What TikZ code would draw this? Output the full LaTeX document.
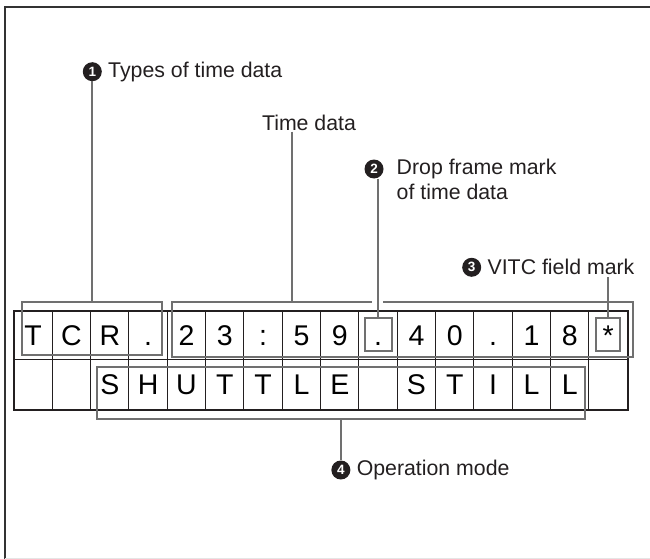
\documentclass[tikz,border=0pt]{standalone}
\usepackage{fontspec}
\setmainfont{Liberation Sans}
\usetikzlibrary{positioning}
\definecolor{inkblack}{RGB}{35,31,32}
\definecolor{markgray}{RGB}{112,112,112}

\begin{document}
\begin{tikzpicture}[x=1pt,y=1pt,
	cell/.style={draw=inkblack, line width=1pt, minimum width=38.33pt, inner sep=0pt,
		text height=20.3pt, text depth=0pt, font=\fontsize{28.5}{28.5}\selectfont},
	markbox/.style={draw=markgray, line width=2pt, inner sep=0pt},
	leader/.style={draw=markgray, line width=2pt},
	num/.style={circle, fill=inkblack, text=white, inner sep=0pt, minimum size=19pt,
		font=\fontsize{13.5}{13.5}\selectfont\bfseries},
	lbl/.style={font=\fontsize{21.3}{25}\selectfont, inner sep=0pt, text=inkblack, align=left}]
				\useasboundingbox (0,0) rectangle (650,-559);
				% Frame
				\draw[black!80, line width=2pt] (4.7,-559) -- (4.7,-6.7) -- (650,-6.7);
				\draw[black!10, line width=1pt] (4.7,-558) -- (650,-558);
				
				% Display rows
				\foreach \c [count=\i from 0] in {T,C,R,.,2,3,:,5,9,.,4,0,.,1,8,*}
					\node[cell, minimum height=48pt] (t\i) at ({33.17+38.33*\i},-335.5) {\c};
				\foreach \c [count=\i from 0] in {{},{},S,H,U,T,T,L,E,{},S,T,I,L,L,{}}
					\node[cell, minimum height=50pt] (b\i) at ({33.17+38.33*\i},-384.5) {\c};
				\draw[inkblack, line width=1.8pt] (t0.north west) rectangle (b15.south east);
				
				% Marked fields
				\node[markbox, minimum width=140pt, minimum height=52.7pt] (typesbox) at (92.3,-328.6) {};
				\node[markbox, minimum width=461pt, minimum height=55pt] (timebox) at (402.8,-329.8) {};
				\fill[white] (371.7,-299) rectangle (383.3,-305.5);
				\node[markbox, minimum width=26.7pt, minimum height=32.4pt] (dotbox) at (378.35,-334.5) {};
				\node[markbox, minimum width=24pt, minimum height=32.4pt] (starbox) at (608,-334.5) {};
				\node[markbox, minimum width=488.3pt, minimum height=51.7pt] (opbox) at (340.85,-393.15) {};
				
				% Labels
				\node[num] (n1) at (92.3,-71.7) {1};
				\node[lbl, right=6pt of n1] (typeslbl) {Types of time data};
				\node[lbl] (timelbl) at (309,-123) {Time data};
				\coordinate (timetap) at (291.7,-131.7);
				\node[num] (n2) at (374,-169) {2};
				\node[lbl, anchor=north west] (droplbl) at (396.5,-159) {Drop frame mark\\of time data};
				\node[num] (n3) at (471.7,-267.3) {3};
				\node[lbl, right=6pt of n3] (vitclbl) {VITC field mark};
				\node[num] (n4) at (340.85,-470) {4};
				\node[lbl, right=6pt of n4] (oplbl) {Operation mode};
				
				% Leaders
				\draw[leader] (n1.south) -- (typesbox.north);
				\draw[leader] (timetap) -- (timetap |- timebox.north);
				\draw[leader] (dotbox.north |- n2.south) -- (dotbox.north);
				\draw[leader] (starbox.north |- n3.south) -- (starbox.north);
				\draw[leader] (opbox.south) -- (n4.north);
			\end{tikzpicture}
\end{document}
